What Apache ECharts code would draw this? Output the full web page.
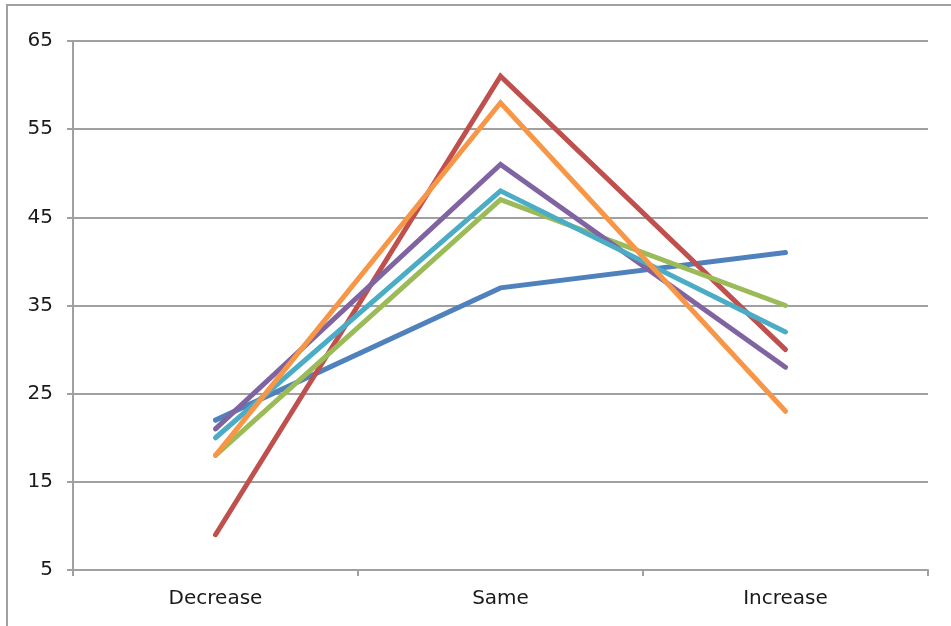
<!DOCTYPE html>
<html><head><meta charset="utf-8">
<script src="https://cdn.jsdelivr.net/npm/echarts@6/dist/echarts.min.js"></script>
<style>html,body{margin:0;padding:0;background:#fff}#c{width:951px;height:626px}</style>
</head><body><div id="c"></div>
<script>
const categories = ['Decrease', 'Same', 'Increase'];
const yTicks = [5, 15, 25, 35, 45, 55, 65];
const seriesBlue = [22, 37, 41];
const seriesRed = [9, 61, 30];
const seriesGreen = [18, 47, 35];
const seriesPurple = [21, 51, 28];
const seriesAqua = [20, 48, 32];
const seriesOrange = [18, 58, 23];

const seriesList = [
  ['Series 1', seriesBlue, '#4F81BD'],
  ['Series 2', seriesRed, '#C0504D'],
  ['Series 3', seriesGreen, '#9BBB59'],
  ['Series 4', seriesPurple, '#8064A2'],
  ['Series 5', seriesAqua, '#4BACC6'],
  ['Series 6', seriesOrange, '#F79646']
];

const chart = echarts.init(document.getElementById('c'));
chart.setOption({
  animation: false,
  backgroundColor: '#fff',
  graphic: [{
    type: 'rect', shape: {x: 7, y: 5, width: 960, height: 640},
    style: {fill: 'none', stroke: '#a0a0a0', lineWidth: 2}, silent: true, z: -1
  }],
  grid: {left: 73, right: 23, top: 41, bottom: 56, containLabel: false},
  xAxis: {
    type: 'category', data: categories, boundaryGap: true,
    axisLine: {lineStyle: {color: '#a0a0a0', width: 2}},
    axisTick: {show: true, length: 6, lineStyle: {color: '#a0a0a0', width: 2}},
    axisLabel: {color: '#1a1a1a', fontSize: 20, margin: 19, fontFamily: 'DejaVu Sans'},
    splitLine: {show: false}
  },
  yAxis: {
    type: 'value', min: yTicks[0], max: yTicks[yTicks.length - 1], interval: 10,
    axisLine: {show: true, lineStyle: {color: '#a0a0a0', width: 2}},
    axisTick: {show: true, length: 6, lineStyle: {color: '#a0a0a0', width: 2}},
    axisLabel: {color: '#1a1a1a', fontSize: 20, margin: 20, fontFamily: 'DejaVu Sans'},
    splitLine: {show: true, lineStyle: {color: '#a0a0a0', width: 2}}
  },
  series: seriesList.map(([name, data, color]) => ({
    name, type: 'line', data, symbol: 'none',
    lineStyle: {color, width: 5, cap: 'round', join: 'miter'},
    itemStyle: {color}
  }))
});
</script></body></html>
